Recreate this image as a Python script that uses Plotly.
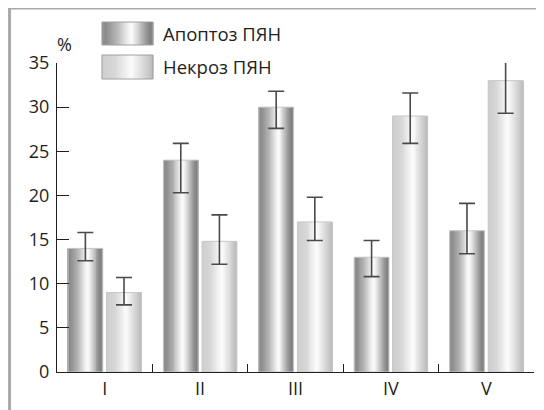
import plotly.graph_objects as go

categories = ["I", "II", "III", "IV", "V"]
apoptosis = [14.0, 24.0, 30.0, 13.0, 16.0]
apoptosis_hi = [15.8, 25.9, 31.8, 14.9, 19.1]
apoptosis_lo = [12.6, 20.3, 27.6, 10.8, 13.4]
necrosis = [9.0, 14.8, 17.0, 29.0, 33.0]
necrosis_hi = [10.7, 17.8, 19.8, 31.6, 35.5]
necrosis_lo = [7.6, 12.2, 14.9, 25.9, 29.3]
series_names = ["Апоптоз ПЯН", "Некроз ПЯН"]
y_ticks = [0, 5, 10, 15, 20, 25, 30, 35]

# styling (page body has an 8px margin, so positions are compensated)
OFF = 8
W, H = 544, 410
PL, PR, PT, PB = 57, 534.5, 63, 372  # target plot area in window pixels
L = PL - OFF
T = PT - OFF
R = W - (PR - OFF)
B = H - (PB - OFF)
BAR_W = 0.365
GAP = 0.02
N_STRIPS = 36
FONT = "Open Sans"
TXT = "#231f20"

def lerp_hex(stops, t):
    for i in range(len(stops) - 1):
        t0, c0 = stops[i]
        t1, c1 = stops[i + 1]
        if t0 <= t <= t1:
            f = (t - t0) / (t1 - t0) if t1 > t0 else 0
            v = round(c0 + (c1 - c0) * f)
            return f"rgb({v},{v},{v})"
    v = stops[-1][1]
    return f"rgb({v},{v},{v})"

grad_apo = [(0, 150), (0.08, 138), (0.3, 180), (0.5, 238), (0.58, 252), (0.7, 215), (0.86, 155), (0.95, 128), (1, 140)]
grad_nec = [(0, 205), (0.25, 214), (0.48, 242), (0.58, 252), (0.75, 226), (0.92, 200), (1, 186)]

fig = go.Figure()

def add_series(vals, hi, lo, offset0, grad, name):
    sw = BAR_W / N_STRIPS
    for k in range(N_STRIPS):
        t = (k + 0.5) / N_STRIPS
        fig.add_trace(go.Bar(
            x=categories, y=vals, offset=offset0 + k * sw, width=sw * 1.6 if k < N_STRIPS - 1 else sw,
            marker=dict(color=lerp_hex(grad, t), line=dict(width=0)),
            showlegend=False, hoverinfo="skip"))
    fig.add_trace(go.Bar(
        x=categories, y=vals, offset=offset0, width=BAR_W, name=name,
        marker=dict(color="rgba(0,0,0,0)", line=dict(color="#c8c8c8", width=1)),
        error_y=dict(type="data", symmetric=False,
                     array=[h - v for h, v in zip(hi, vals)],
                     arrayminus=[v - l for l, v in zip(lo, vals)],
                     color="#4a4a4a", thickness=1.6, width=8),
        showlegend=False))

add_series(apoptosis, apoptosis_hi, apoptosis_lo, -GAP - BAR_W, grad_apo, series_names[0])
add_series(necrosis, necrosis_hi, necrosis_lo, GAP, grad_nec, series_names[1])

pw = PR - PL
ph = PB - PT
def px(x):  # window pixel -> paper
    return (x - PL) / pw
def py(y):
    return (PB - y) / ph

shapes = []
# frame
shapes.append(dict(type="line", xref="paper", yref="paper", x0=px(9.5), x1=px(9.5), y0=py(6.5), y1=py(420),
                   line=dict(color="#a9a9a9", width=3)))
shapes.append(dict(type="line", xref="paper", yref="paper", x0=px(8), x1=px(560), y0=py(8), y1=py(8),
                   line=dict(color="#a9a9a9", width=3)))

# legend swatches
def swatch(x0, x1, y0, y1, grad):
    n = 50
    for k in range(n):
        t = (k + 0.5) / n
        a = x0 + (x1 - x0) * k / n
        b = x0 + (x1 - x0) * (k + 1) / n
        shapes.append(dict(type="rect", xref="paper", yref="paper", x0=px(a), x1=px(b + 0.6),
                           y0=py(y1), y1=py(y0), fillcolor=lerp_hex(grad, t), line=dict(width=0), layer="above"))
    shapes.append(dict(type="rect", xref="paper", yref="paper", x0=px(x0), x1=px(x1),
                       y0=py(y1), y1=py(y0), line=dict(color="#a0a0a0", width=1), layer="above"))

swatch(102, 153, 22, 45, grad_apo)
swatch(102, 153, 55, 79, grad_nec)

annotations = [
    dict(text=series_names[0], xref="paper", yref="paper", x=px(161), y=py(33), xanchor="left", yanchor="middle",
         showarrow=False, font=dict(size=18.5, color=TXT, family=FONT)),
    dict(text=series_names[1], xref="paper", yref="paper", x=px(161), y=py(67), xanchor="left", yanchor="middle",
         showarrow=False, font=dict(size=18.5, color=TXT, family=FONT)),
    dict(text="%", xref="paper", yref="paper", x=px(65), y=py(44), xanchor="center", yanchor="middle",
         showarrow=False, font=dict(size=18, color=TXT, family=FONT)),
]

fig.update_layout(
    width=W, height=H,
    margin=dict(l=L, r=R, t=T, b=B, pad=0, autoexpand=False),
    paper_bgcolor="white", plot_bgcolor="white",
    barmode="overlay",
    showlegend=False,
    shapes=shapes, annotations=annotations,
    font=dict(family=FONT, color=TXT, size=18),
)
fig.update_xaxes(
    type="category", range=[-0.5, 4.5], showline=True, linecolor=TXT, linewidth=1.2,
    ticks="inside", tickson="boundaries", ticklen=8, tickcolor=TXT, tickwidth=1,
    showgrid=False, zeroline=False, tickfont=dict(size=18, family=FONT, color=TXT), automargin=False,
)
fig.update_yaxes(
    range=[0, 35], tickvals=y_ticks, showline=True, linecolor=TXT, linewidth=1.2,
    ticks="inside", ticklen=12, tickcolor=TXT, tickwidth=1, ticklabelstandoff=3,
    showgrid=False, zeroline=False, tickfont=dict(size=18, family=FONT, color=TXT), automargin=False,
)

fig.write_html("out.html")
